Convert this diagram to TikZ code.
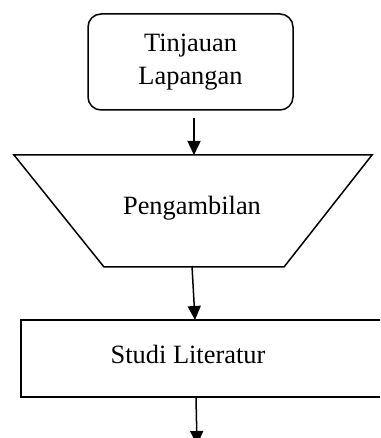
\documentclass[tikz,border=0pt]{standalone}
\usepackage{fontspec}
\setmainfont{Liberation Serif}
\usetikzlibrary{arrows.meta}
\begin{document}
\begin{tikzpicture}[x=1pt,y=1pt,
  box/.style={draw=black,line width=1.5pt},
  lbl/.style={font=\fontsize{26.4}{33}\selectfont,align=center,inner sep=0pt},
  flow/.style={line width=1.5pt,-{Triangle[length=14pt,width=13pt]}}]
\useasboundingbox (0,0) rectangle (380,438);
\clip (0,0) rectangle (380,438);
% rounded start box
\node[box,rounded corners=13pt,minimum width=205pt,minimum height=96pt,inner sep=0pt] (tin) at (190.5,376) {};
\node[lbl] (tintext) at (190.5,376) {Tinjauan\\Lapangan};
% trapezoid
\coordinate (tl) at (14,283);
\coordinate (tr) at (372,283);
\coordinate (br) at (284,171);
\coordinate (bl) at (104,171);
\draw[box] (tl) -- (tr) -- (br) -- (bl) -- cycle;
\node[lbl] (peng) at (192,230) {Pengambilan};
\coordinate (ptop) at (194,283);
\coordinate (pbot) at (192,172);
% rectangle
\draw[box] (21,41) rectangle (395,118);
\node[lbl] (studi) at (188,84) {Studi Literatur};
\coordinate (stop) at (195,118);
\coordinate (sbot) at (196,41);
\coordinate (end) at (197,-7);
\coordinate (tinbot) at (194,320);
% connectors
\draw[flow] (tinbot) -- (ptop);
\draw[flow] (pbot) -- (stop);
\draw[flow] (sbot) -- (end);
\end{tikzpicture}
\end{document}
